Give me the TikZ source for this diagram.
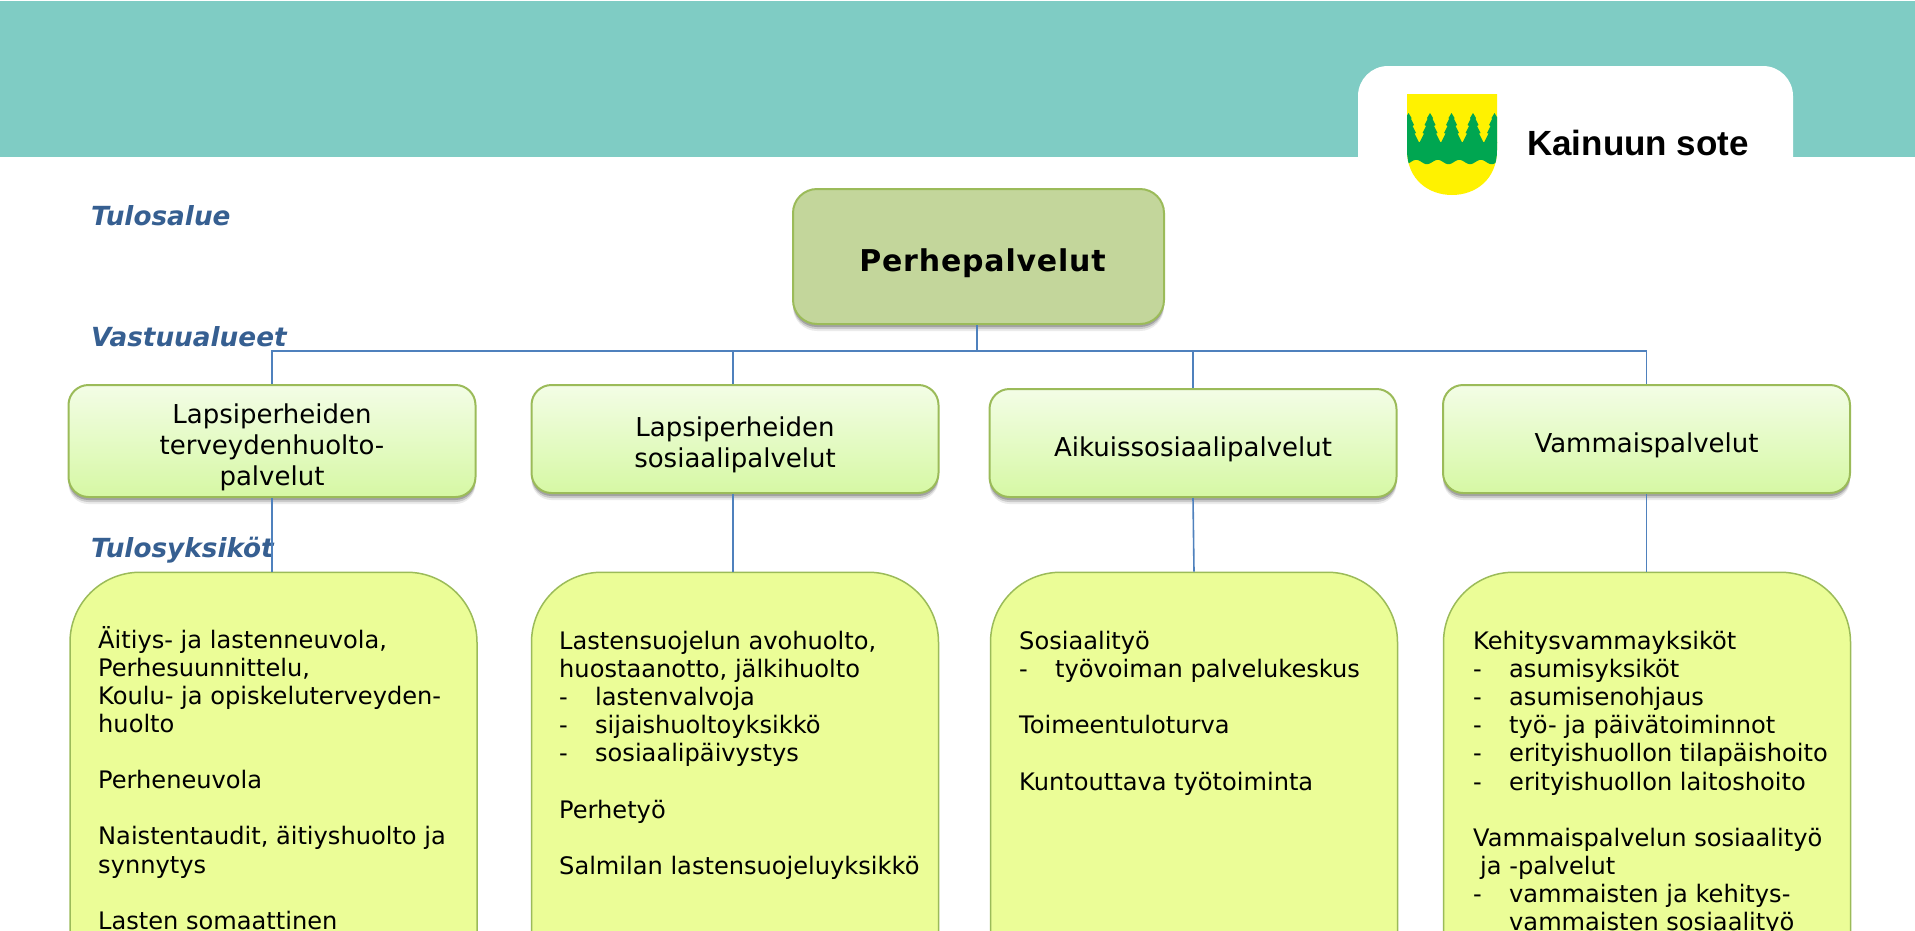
\documentclass[tikz,border=0pt]{standalone}
\usepackage{fontspec}
\setmainfont{DejaVu Sans}
\newfontfamily\logofont{Liberation Sans}
\usetikzlibrary{shadows}
\definecolor{bandgreen}{HTML}{7FCCC4}
\definecolor{linkblue}{HTML}{4F81BD}
\definecolor{edgegreen}{HTML}{9BBB59}
\definecolor{mainfill}{HTML}{C3D69B}
\definecolor{unitfill}{HTML}{EBFD97}
\definecolor{labelblue}{HTML}{365F91}
\definecolor{shieldyellow}{HTML}{FFF200}
\definecolor{shieldgreen}{HTML}{00A651}
\definecolor{areatop}{HTML}{F3FDE6}
\definecolor{areabottom}{HTML}{D6F8A4}
\newcommand{\dashitem}[1]{\makebox[36pt][l]{-}#1}
\begin{document}
\begin{tikzpicture}[x=1pt, y=-1pt,
    softshadow/.style ={drop shadow={shadow xshift=0pt, shadow yshift=-7pt, opacity=0.08, fill=black},
                        drop shadow={shadow xshift=0pt, shadow yshift=-5pt, opacity=0.14, fill=black},
                        drop shadow={shadow xshift=0pt, shadow yshift=-3pt, opacity=0.2, fill=black}},
    mainbox/.style ={draw=edgegreen, line width=2pt, fill=mainfill, rounded corners=24pt, minimum width=371pt, minimum height=135pt, softshadow, font=\fontsize{30}{35}\bfseries\selectfont\addfontfeature{LetterSpace=2.7}, inner sep=0pt},
    areabox/.style ={draw=edgegreen, line width=2pt, top color=areatop, bottom color=areabottom, rounded corners=20pt, minimum width=407pt, softshadow, align=center, inner sep=0pt, font=\fontsize{26}{31}\selectfont},
    unitbox/.style ={draw=edgegreen, line width=1.5pt, fill=unitfill, rounded corners=70pt, minimum width=407pt, minimum height=500pt, anchor=north},
    unittext/.style ={anchor=north west, align=left, inner sep=0pt, font=\fontsize{24.1}{28.1}\selectfont},
    levellabel/.style ={anchor=base west, inner sep=0pt, text=labelblue, font=\fontsize{26.3}{31}\bfseries\itshape\selectfont},
    link/.style ={draw=linkblue, line width=1.6pt}]
   \useasboundingbox (0,0) rectangle (1915,930);
   \clip (0,0) rectangle (1915,930);

   \fill[bandgreen] (0,1) rectangle (1915,157);
   \fill[white, rounded corners=30pt] (1358,66) rectangle (1793,215);

   \begin{scope}
     \path[clip] (1407,94) -- (1497,94) -- (1497,150) .. controls (1497,180) and (1475,195) .. (1452,195) .. controls (1429,195) and (1407,180) .. (1407,150) -- cycle;
     \fill[shieldyellow] (1400,90) rectangle (1500,200);
     \foreach \x in {1408.5,1430,1451.5,1473,1494.5} {
       \fill[shieldgreen] (\x,113) -- (\x+3,118) -- (\x+2.5,119) -- (\x+5.5,125) -- (\x+4,126) -- (\x+7.5,133) -- (\x+6,133.5) -- (\x+10.75,143) -- (\x-10.75,143) -- (\x-6,133.5) -- (\x-7.5,133) -- (\x-4,126) -- (\x-5.5,125) -- (\x-2.5,119) -- (\x-3,118) -- cycle;
     }
     \fill[shieldgreen] (1400,142) -- (1500,142) -- plot[domain=1500:1400, samples=60] (\x,{162+2.2*sin((\x-1400)*16.7)}) -- cycle;
   \end{scope}
   \node[anchor=base west, inner sep=0pt, font=\fontsize{35}{40}\bfseries\logofont\selectfont] (logotext) at (1527,155) {Kainuun sote};

   \node[levellabel] (labelA) at (91,225) {Tulosalue};
   \node[levellabel] (labelB) at (91,346) {Vastuualueet};
   \node[levellabel] (labelC) at (91,557) {Tulosyksiköt};

   \node[mainbox] (main) at (978.5,256.5) {\rule{0pt}{37pt}\hspace{8pt}Perhepalvelut};

   \node[areabox, minimum height=112pt] (area1) at (272,441) {\rule{0pt}{32pt}Lapsiperheiden\\terveydenhuolto-\\palvelut};
   \node[areabox, minimum height=108pt] (area2) at (735,439) {\rule{0pt}{32pt}Lapsiperheiden\\sosiaalipalvelut};
   \node[areabox, minimum height=108pt] (area3) at (1193,443) {\rule{0pt}{32pt}Aikuissosiaalipalvelut};
   \node[areabox, minimum height=108pt] (area4) at (1646.5,439) {\rule{0pt}{32pt}Vammaispalvelut};

   \node[unitbox] (unit1) at (273.5,571.5) {};
   \node[unitbox] (unit2) at (735,571.5) {};
   \node[unitbox] (unit3) at (1194,571.5) {};
   \node[unitbox] (unit4) at (1647,571.5) {};

   \coordinate (bus) at (977,351);
   \draw[link] (main.south -| bus) to (bus);
   \draw[link] (bus) -| (area1.north);
   \draw[link] (bus) -| ([xshift=-2pt]area2.north);
   \draw[link] (bus) -| (area3.north);
   \draw[link] (bus) -| (area4.north);
   \draw[link] (area1.south) to (area1.south |- unit1.north);
   \draw[link] ([xshift=-2pt]area2.south) to ([xshift=-2pt]unit2.north);
   \draw[link] (area3.south) to (unit3.north);
   \draw[link] (area4.south) to (area4.south |- unit4.north);

   \node[unittext] (text1) at (98,626) {Äitiys- ja lastenneuvola,\\Perhesuunnittelu,\\Koulu- ja opiskeluterveyden-\\huolto\\[28.1pt]Perheneuvola\\[28.1pt]Naistentaudit, äitiyshuolto ja\\synnytys\\[28.1pt]Lasten somaattinen};
   \node[unittext] (text2) at (559,631) {Lastensuojelun avohuolto,\\huostaanotto, jälkihuolto\\\dashitem{lastenvalvoja}\\\dashitem{sijaishuoltoyksikkö}\\\dashitem{sosiaalipäivystys}\\[28.1pt]Perhetyö\\[28.1pt]Salmilan lastensuojeluyksikkö};
   \node[unittext] (text3) at (1019,631) {Sosiaalityö\\\dashitem{työvoiman palvelukeskus}\\[28.1pt]Toimeentuloturva\\[28.1pt]Kuntouttava työtoiminta};
   \node[unittext] (text4) at (1473,631) {Kehitysvammayksiköt\\\dashitem{asumisyksiköt}\\\dashitem{asumisenohjaus}\\\dashitem{työ- ja päivätoiminnot}\\\dashitem{erityishuollon tilapäishoito}\\\dashitem{erityishuollon laitoshoito}\\[28.1pt]Vammaispalvelun sosiaalityö\\\hspace*{7pt}ja -palvelut\\\dashitem{vammaisten ja kehitys-}\\\hspace*{36pt}vammaisten sosiaalityö};

 \end{tikzpicture}
\end{document}
